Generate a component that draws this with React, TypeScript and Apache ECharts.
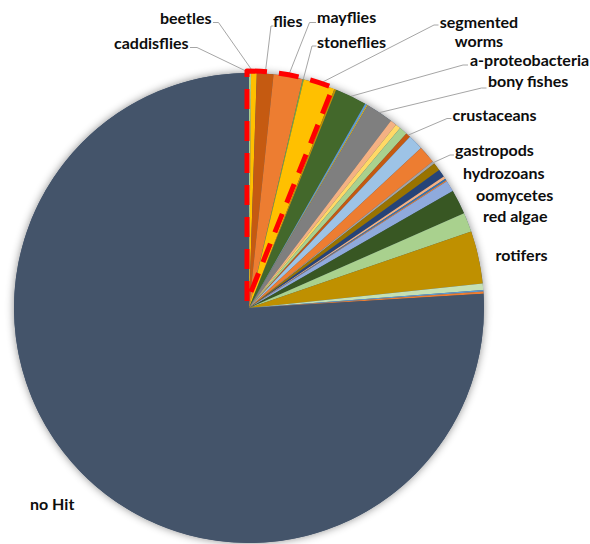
import { useEffect, useRef } from 'react';
import * as echarts from 'echarts';

// Share of reads (%) per taxon, clockwise from 12 o'clock.
const taxa = [
  'caddisflies',
  'beetles',
  'flies',
  'mayflies',
  'stoneflies',
  'segmented worms',
  'other taxon 07',
  'a-proteobacteria',
  'other taxon 09',
  'other taxon 10',
  'bony fishes',
  'other taxon 12',
  'other taxon 13',
  'other taxon 14',
  'crustaceans',
  'other taxon 16',
  'other taxon 17',
  'gastropods',
  'other taxon 19',
  'other taxon 20',
  'other taxon 21',
  'other taxon 22',
  'other taxon 23',
  'hydrozoans',
  'oomycetes',
  'red algae',
  'rotifers',
  'other taxon 28',
  'other taxon 29',
  'other taxon 30',
  'no Hit',
];

const shares = [
  0.14, 0.39, 1.14, 2.0, 0.08, 2.17, 0.14, 2.17, 0.14, 0.06, 1.89, 0.44, 0.36,
  0.56, 0.33, 1.06, 1.22, 0.17, 0.56, 0.53, 0.19, 0.11, 0.08, 0.78, 1.69, 1.33,
  3.61, 0.44, 0.11, 0.14, 75.97,
];

const sliceColors = [
  '#A9D18E', '#FFC000', '#C55A11', '#ED7D31', '#70AD47', '#FFC000', '#BF9000',
  '#43682B', '#5B9BD5', '#FFC000', '#7F7F7F', '#F4B183', '#FFD966', '#A9D18E',
  '#C55A11', '#9DC3E6', '#ED7D31', '#A5A5A5', '#997300', '#264478', '#F4B183',
  '#2E75B6', '#ED7D31', '#8FAADC', '#385723', '#A9D18E', '#BF9000', '#C5E0B4',
  '#5B9BD5', '#ED7D31', '#44546A',
];

// Number of leading slices enclosed by the dashed red outline.
const highlightedCount = 7;

type Anchor = {
  x: number;
  y: number;
  align?: 'left' | 'center';
  text?: string;
  line?: number[][]; // leader line points after the rim point
};

// Label placement (text anchor + leader line elbow/end).
const labelAnchors: Record<string, Anchor> = {
  caddisflies: { x: 114, y: 42, line: [[197, 47.5], [190, 47.5]] },
  beetles: { x: 160, y: 17.5, line: [[218.5, 22.5], [213, 22.5]] },
  flies: { x: 273, y: 20.5, line: [[271, 26], [273.5, 26]] },
  mayflies: { x: 317, y: 16, line: [[309.5, 22.5], [316, 22.5]] },
  stoneflies: { x: 317, y: 41.5, line: [[312, 46], [316.5, 46]] },
  'segmented worms': {
    x: 479,
    y: 31,
    align: 'center',
    text: 'segmented\nworms',
    line: [[434, 25], [438.5, 25]],
  },
  'a-proteobacteria': { x: 470, y: 59, line: [[463, 65], [468, 65]] },
  'bony fishes': { x: 488, y: 80.5, line: [[481.5, 88], [486.5, 88]] },
  crustaceans: { x: 452.5, y: 114.5, line: [[447, 118.5], [451.5, 118.5]] },
  gastropods: { x: 455, y: 149.5, line: [[450, 155], [454, 155]] },
  hydrozoans: { x: 463, y: 172 },
  oomycetes: { x: 476, y: 194 },
  'red algae': { x: 483, y: 215.5 },
  rotifers: { x: 495.5, y: 254 },
  'no Hit': { x: 30, y: 503 },
};

const CENTER = [249, 308];
const RADIUS = 235;

export default function App() {
  const ref = useRef<HTMLDivElement>(null);

  useEffect(() => {
    document.body.style.margin = '0';
    const chart = echarts.init(ref.current!, null, { renderer: 'svg' });

    const total = shares.reduce((s, v) => s + v, 0);
    const rimPoint = (index: number) => {
      let before = 0;
      for (let i = 0; i < index; i++) before += shares[i];
      const mid = ((before + shares[index] / 2) / total) * Math.PI * 2;
      return [CENTER[0] + RADIUS * Math.sin(mid), CENTER[1] - RADIUS * Math.cos(mid)];
    };

    const pieData = taxa.map((name, i) => {
      const anchor = labelAnchors[name];
      return {
        name,
        value: shares[i],
        itemStyle: { color: sliceColors[i] },
        label: { show: !!anchor },
        labelLine: { show: !!(anchor && anchor.line) },
      };
    });

    const highlighted = shares.slice(0, highlightedCount).reduce((s, v) => s + v, 0);

    chart.setOption({
      animation: false,
      series: [
        {
          // soft shadow beneath the pie
          type: 'pie',
          z: 1,
          silent: true,
          center: CENTER,
          radius: RADIUS,
          label: { show: false },
          labelLine: { show: false },
          emphasis: { disabled: true },
          itemStyle: {
            color: '#44546A',
            borderWidth: 0,
            shadowBlur: 9,
            shadowColor: 'rgba(0,0,0,0.45)',
          },
          data: [{ value: 1, name: 'base' }],
        },
        {
          type: 'pie',
          z: 2,
          center: CENTER,
          radius: RADIUS,
          startAngle: 90,
          clockwise: true,
          avoidLabelOverlap: false,
          emphasis: { disabled: true },
          itemStyle: { borderWidth: 0 },
          label: {
            position: 'outside',
            color: '#0d0d0d',
            fontFamily: 'Lato',
            fontWeight: 'bold',
            fontSize: 16,
            lineHeight: 19.5,
            formatter: (p: any) => labelAnchors[p.name]?.text ?? p.name,
          },
          labelLine: {
            length: 8,
            length2: 8,
            lineStyle: { color: '#A6A6A6', width: 1 },
          },
          labelLayout: (p: any) => {
            const a = labelAnchors[taxa[p.dataIndex]];
            if (!a) return {};
            const res: any = {
              x: a.x,
              y: a.y,
              align: a.align || 'left',
              verticalAlign: 'middle',
            };
            if (a.line) {
              const rim =
                p.labelLinePoints && p.labelLinePoints[0]
                  ? p.labelLinePoints[0]
                  : rimPoint(p.dataIndex);
              res.labelLinePoints = [rim, ...a.line];
            }
            return res;
          },
          data: pieData,
        },
        {
          // dashed outline around the leading group of slices
          type: 'pie',
          z: 3,
          silent: true,
          center: [247, 302],
          radius: 231,
          startAngle: 90,
          clockwise: true,
          label: { show: false },
          labelLine: { show: false },
          emphasis: { disabled: true },
          data: [
            {
              value: highlighted,
              name: 'group',
              itemStyle: {
                color: 'rgba(0,0,0,0)',
                borderColor: '#FF0000',
                borderWidth: 5,
                borderType: [20, 12],
              },
            },
            {
              value: total - highlighted,
              name: 'rest',
              itemStyle: { color: 'rgba(0,0,0,0)', borderWidth: 0 },
            },
          ],
        },
      ],
    });

    return () => chart.dispose();
  }, []);

  return <div ref={ref} style={{ width: 590, height: 544 }} />;
}
